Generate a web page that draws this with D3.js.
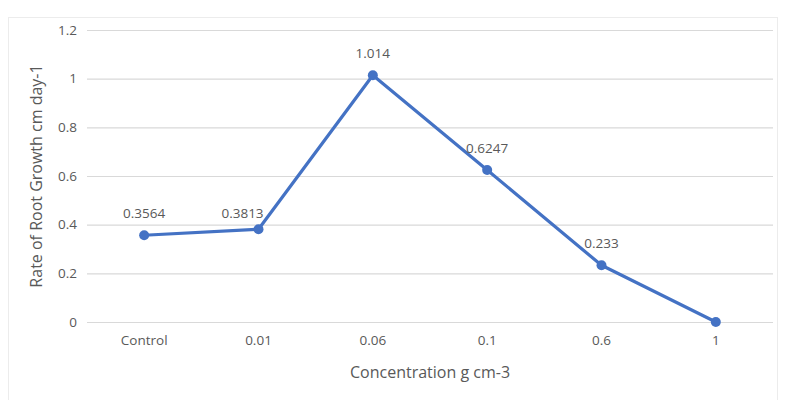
<!DOCTYPE html>
<html><head><meta charset="utf-8">
<script src="https://cdn.jsdelivr.net/npm/d3@7"></script>
<style>
body{margin:0;background:#fff;}
text{font-family:"Open Sans","Noto Sans",sans-serif;fill:#595959;}
</style></head>
<body><svg id="c" width="790" height="400"></svg>
<script>
const categories = ["Control","0.01","0.06","0.1","0.6","1"];
const values = [0.3564, 0.3813, 1.014, 0.6247, 0.233, 0];
const labels = ["0.3564","0.3813","1.014","0.6247","0.233",null];
const yTicks = [0,0.2,0.4,0.6,0.8,1,1.2];
const yTickLabels = ["0","0.2","0.4","0.6","0.8","1","1.2"];

const svg = d3.select("#c");
svg.append("rect").attr("x",8.5).attr("y",17.5).attr("width",769).attr("height",390)
  .attr("fill","#fff").attr("stroke","#ececec");

const L=87, R=773, T=30, B=322;
const x = d3.scaleBand().domain(categories).range([L,R]);
const y = d3.scaleLinear().domain([0,1.2]).range([B,T]);

const yAxis = d3.axisLeft(y).tickValues(yTicks).tickSize(-(R-L)).tickPadding(10)
  .tickFormat((d,i)=>yTickLabels[i]);
const gy = svg.append("g").attr("transform",`translate(${L},0)`).call(yAxis);
gy.select(".domain").remove();
gy.selectAll(".tick line").attr("stroke","#d9d9d9").attr("stroke-width",1.2);
gy.selectAll(".tick text").attr("font-size",13.5).attr("fill","#595959");

const xAxis = d3.axisBottom(x).tickSize(0).tickPadding(13);
const gx = svg.append("g").attr("transform",`translate(0,${B})`).call(xAxis);
gx.select(".domain").remove();
gx.selectAll(".tick text").attr("font-size",13.5).attr("fill","#595959");

const cx = d => x(d) + x.bandwidth()/2;
const line = d3.line().x((d,i)=>cx(categories[i])).y(d=>y(d));
svg.append("path").datum(values).attr("d",line).attr("fill","none")
  .attr("stroke","#4472C4").attr("stroke-width",3.2).attr("stroke-linejoin","round");
svg.selectAll("circle.pt").data(values).enter().append("circle")
  .attr("cx",(d,i)=>cx(categories[i])).attr("cy",d=>y(d)).attr("r",5).attr("fill","#4472C4");
// label nudges (pixels) to mimic the original label placement
const nudgeX = [0,-16,0,0,0,0], nudgeY = [0,6,0,0,0,0];
svg.selectAll("text.lbl").data(values).enter().filter((d,i)=>labels[i]!==null).append("text")
  .attr("x",(d,i)=>cx(categories[i])+nudgeX[i]).attr("y",(d,i)=>y(d)-17+nudgeY[i]).attr("text-anchor","middle")
  .attr("font-size",13.5).text((d,i)=>labels[i]);

svg.append("text").attr("x",(L+R)/2).attr("y",378).attr("text-anchor","middle")
  .attr("font-size",16).text("Concentration g cm-3");
svg.append("text").attr("transform",`translate(42,${(T+B)/2}) rotate(-90)`).attr("text-anchor","middle")
  .attr("font-size",16).text("Rate of Root Growth cm day-1");
</script></body></html>
